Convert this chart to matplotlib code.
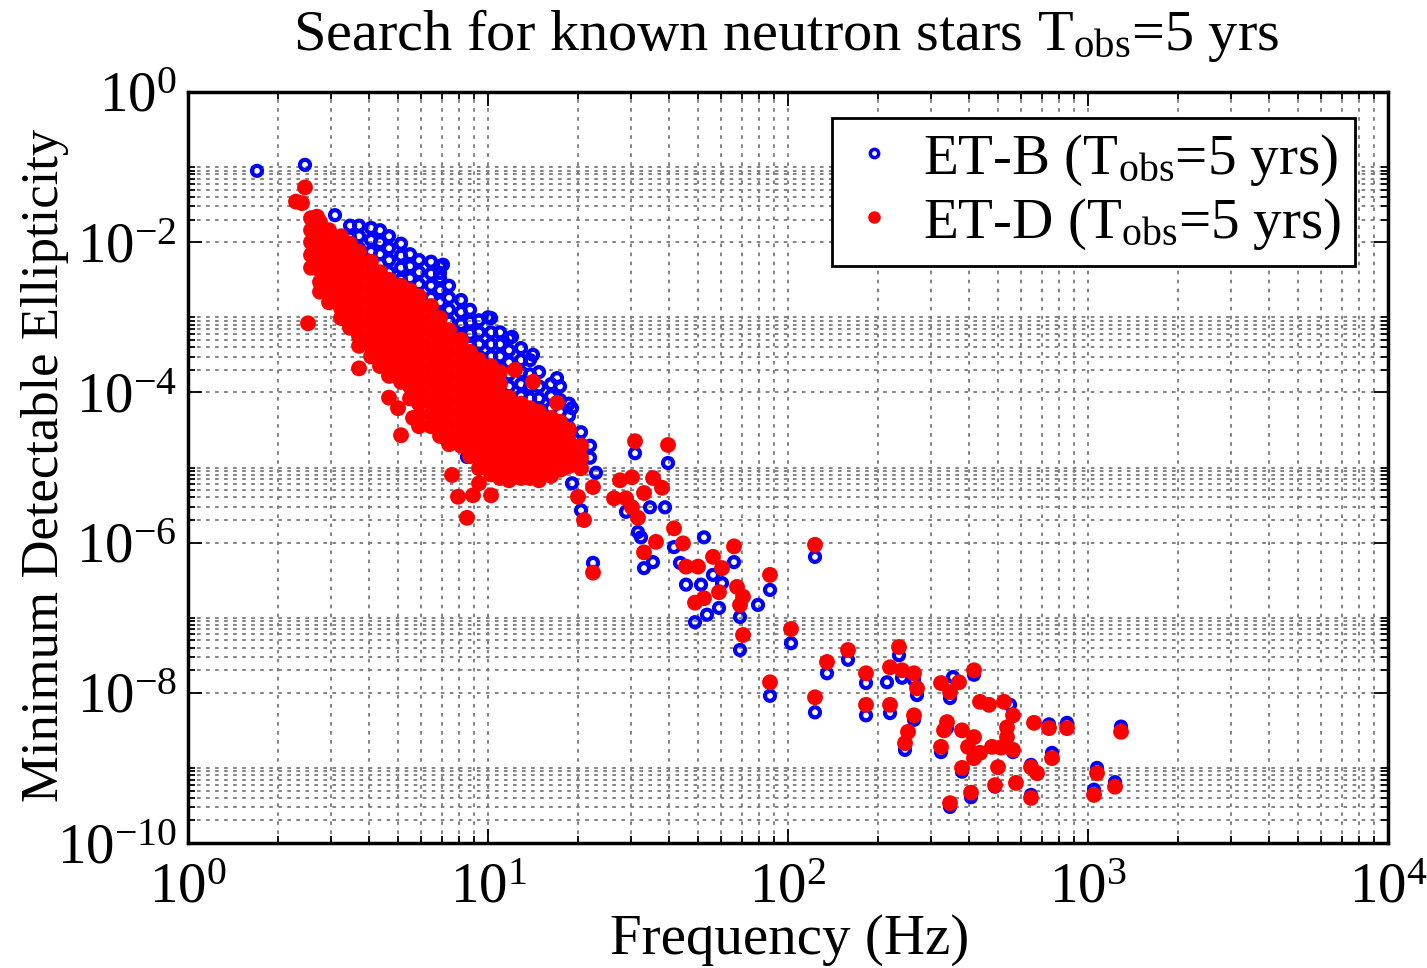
import numpy as np
import matplotlib.pyplot as plt
from matplotlib.ticker import FixedLocator, FuncFormatter, LogLocator, NullFormatter
from matplotlib.lines import Line2D

plt.rcParams['font.family'] = ['Liberation Serif', 'DejaVu Serif']
plt.rcParams['mathtext.fontset'] = 'custom'
plt.rcParams['mathtext.rm'] = 'Liberation Serif'
plt.rcParams['mathtext.it'] = 'Liberation Serif:italic'
plt.rcParams['mathtext.bf'] = 'Liberation Serif:bold'

# values, stored as log10(frequency / Hz) and log10(ellipticity)

# dense band of ET-D points: one frequency per column, ellipticities in that column
etd_band_logf = [0.41, 0.44, 0.47, 0.51, 0.54, 0.57, 0.61, 0.64, 0.67, 0.71,
                 0.74, 0.77, 0.81, 0.84, 0.87, 0.91, 0.94, 0.97, 1.01, 1.04,
                 1.07, 1.11, 1.14, 1.17, 1.21, 1.24, 1.27, 1.31]
etd_band_loge = [
    [-1.68, -1.84, -2.00, -2.17, -2.34],
    [-1.73, -1.89, -2.05, -2.21, -2.37, -2.53, -2.66],
    [-1.84, -2.00, -2.16, -2.32, -2.48, -2.64, -2.80],
    [-1.92, -2.08, -2.24, -2.40, -2.56, -2.72, -2.88, -3.01],
    [-2.02, -2.18, -2.34, -2.50, -2.66, -2.82, -2.98, -3.14],
    [-2.13, -2.29, -2.45, -2.61, -2.77, -2.93, -3.09, -3.25, -3.38],
    [-2.26, -2.42, -2.58, -2.74, -2.90, -3.06, -3.22, -3.38, -3.52],
    [-2.40, -2.56, -2.72, -2.88, -3.04, -3.20, -3.36, -3.52, -3.65],
    [-2.50, -2.66, -2.82, -2.98, -3.14, -3.30, -3.46, -3.62, -3.78],
    [-2.58, -2.74, -2.90, -3.06, -3.22, -3.38, -3.54, -3.70, -3.86],
    [-2.64, -2.80, -2.96, -3.12, -3.28, -3.44, -3.60, -3.76, -3.92, -4.08],
    [-2.72, -2.88, -3.04, -3.20, -3.36, -3.52, -3.68, -3.84, -4.00, -4.15, -4.31, -4.45],
    [-2.85, -3.01, -3.17, -3.33, -3.49, -3.65, -3.81, -3.97, -4.13, -4.29, -4.45],
    [-3.01, -3.17, -3.33, -3.49, -3.65, -3.81, -3.97, -4.13, -4.29, -4.45, -4.58],
    [-3.17, -3.33, -3.49, -3.65, -3.81, -3.97, -4.13, -4.29, -4.45, -4.58, -4.69],
    [-3.30, -3.46, -3.62, -3.78, -3.94, -4.10, -4.26, -4.42, -4.58, -4.71],
    [-3.46, -3.62, -3.78, -3.94, -4.10, -4.26, -4.42, -4.58, -4.71, -4.85],
    [-3.57, -3.73, -3.89, -4.05, -4.21, -4.37, -4.53, -4.69, -4.85, -5.01],
    [-3.65, -3.81, -3.97, -4.13, -4.29, -4.45, -4.61, -4.77, -4.93, -5.09],
    [-3.73, -3.89, -4.05, -4.21, -4.37, -4.53, -4.69, -4.85, -5.01, -5.14],
    [-4.07, -4.23, -4.39, -4.55, -4.71, -4.87, -5.03, -5.17],
    [-4.15, -4.31, -4.47, -4.63, -4.79, -4.95, -5.11],
    [-4.21, -4.37, -4.53, -4.69, -4.85, -5.01, -5.14],
    [-4.26, -4.42, -4.58, -4.74, -4.90, -5.06, -5.17],
    [-4.34, -4.50, -4.66, -4.82, -4.98, -5.11],
    [-4.39, -4.55, -4.71, -4.87, -5.03],
    [-4.50, -4.66, -4.82, -4.98],
    [-4.71, -4.87, -5.01],
]

# dense band of ET-B points (upper edge of the cloud)
etb_band_logf = [0.54, 0.57, 0.61, 0.64, 0.67, 0.71, 0.74, 0.77, 0.81, 0.84,
                 0.87, 0.91, 0.94, 0.97, 1.01, 1.04, 1.07, 1.11, 1.14, 1.17,
                 1.21, 1.24, 1.27, 1.31, 1.34]
etb_band_loge = [
    [-1.78, -1.94],
    [-1.78, -1.92, -2.08],
    [-1.81, -1.97, -2.13],
    [-1.84, -2.00, -2.16, -2.29],
    [-1.92, -2.08, -2.24, -2.40],
    [-2.02, -2.18, -2.34, -2.50],
    [-2.16, -2.32, -2.48],
    [-2.24, -2.40, -2.56],
    [-2.26, -2.42, -2.58, -2.74],
    [-2.32, -2.48, -2.64, -2.80, -2.96],
    [-2.58, -2.74, -2.90, -3.06],
    [-2.77, -2.93, -3.09, -3.25],
    [-2.90, -3.06, -3.22, -3.38],
    [-3.04, -3.20, -3.36, -3.52],
    [-3.01, -3.20, -3.36, -3.52],
    [-3.20, -3.36, -3.52, -3.68],
    [-3.28, -3.44, -3.60, -3.76, -3.92],
    [-3.41, -3.57, -3.73, -3.89, -4.05],
    [-3.57, -3.76, -3.92, -4.08],
    [-3.73, -3.92, -4.08, -4.21],
    [-3.89, -4.05, -4.21, -4.34],
    [-3.92, -4.10, -4.26, -4.42],
    [-4.15, -4.31, -4.47, -4.63],
    [-4.53, -4.69, -4.82],
    [-4.71, -4.87],
]

# scattered ET-D points (log10 f, log10 eps)
etd_scatter = [
    (0.39, -1.27), (0.36, -1.46), (0.38, -1.48), (0.43, -1.66),
    (0.40, -3.08), (0.57, -3.68), (0.67, -4.07), (0.70, -4.21), (0.75, -4.34),
    (0.71, -4.57), (0.88, -5.10), (0.90, -5.39), (0.95, -5.37), (0.97, -5.21),
    (1.01, -5.37), (0.93, -5.67), (1.11, -5.14), (1.16, -5.13),
    (1.09, -3.70), (1.15, -3.86), (1.23, -4.14),
    (1.27, -4.67), (1.28, -4.94), (1.25, -5.01), (1.35, -5.26), (1.30, -5.39),
    (1.32, -5.70), (1.49, -4.65), (1.60, -4.70), (1.44, -5.17), (1.48, -5.13),
    (1.55, -5.14), (1.58, -5.27), (1.52, -5.34), (1.42, -5.41), (1.46, -5.41),
    (1.48, -5.53), (1.50, -5.67), (1.62, -5.81), (1.65, -6.01), (1.56, -5.99),
    (1.52, -6.13), (1.35, -6.40), (1.66, -6.32), (1.70, -6.32), (1.75, -6.19),
    (1.78, -6.34), (1.82, -6.05), (1.69, -6.80), (1.72, -6.74), (1.77, -6.66),
    (1.83, -6.59), (1.85, -6.72), (1.84, -6.83), (1.85, -7.23), (1.94, -6.43),
    (2.09, -6.03), (2.01, -7.15), (1.94, -7.86),
    (2.13, -7.59), (2.20, -7.43), (2.26, -7.74), (2.09, -8.06), (2.26, -8.16),
    (2.37, -7.39), (2.34, -7.66), (2.38, -7.70), (2.42, -7.74), (2.43, -7.94),
    (2.34, -8.16), (2.42, -8.30), (2.40, -8.52), (2.39, -8.67), (2.62, -7.70),
    (2.51, -7.87), (2.57, -7.86), (2.54, -7.99), (2.64, -8.12), (2.67, -8.16),
    (2.72, -8.12), (2.75, -8.30), (2.73, -8.46), (2.73, -8.59), (2.75, -8.76),
    (2.71, -8.73), (2.68, -8.72), (2.82, -8.40), (2.87, -8.47), (2.93, -8.47),
    (3.11, -8.52), (2.53, -8.39), (2.52, -8.50), (2.58, -8.50), (2.62, -8.59),
    (2.60, -8.72), (2.51, -8.72), (2.64, -8.80), (2.62, -8.87), (2.58, -9.00),
    (2.70, -8.99), (2.81, -8.99), (2.83, -9.07), (2.88, -8.87), (2.61, -9.33),
    (2.69, -9.23), (2.76, -9.20), (2.81, -9.40), (2.54, -9.47), (3.03, -9.07),
    (3.02, -9.36), (3.09, -9.25),
]

# scattered ET-B points (log10 f, log10 eps)
etb_scatter = [
    (0.23, -1.05), (0.39, -0.97), (0.49, -1.64), (0.85, -2.30), (0.84, -2.41),
    (1.00, -3.00), (1.08, -3.26), (1.15, -3.50), (1.23, -3.81), (1.28, -4.21),
    (0.93, -4.86),
    (1.31, -4.81), (1.36, -5.07), (1.28, -5.21), (1.31, -5.57), (1.49, -4.81),
    (1.60, -4.94), (1.46, -5.59), (1.54, -5.53), (1.59, -5.53), (1.50, -5.86),
    (1.51, -5.93), (1.72, -5.93), (1.62, -6.06), (1.55, -6.26), (1.52, -6.34),
    (1.35, -6.27), (1.64, -6.27), (1.75, -6.43), (1.82, -6.26), (1.66, -6.56),
    (1.71, -6.56), (1.78, -6.54), (1.77, -6.87), (1.69, -7.06), (1.73, -6.96),
    (1.84, -6.99), (1.90, -6.83), (1.94, -6.63), (1.84, -7.43), (2.09, -6.19),
    (2.01, -7.34), (1.94, -8.04),
    (2.13, -7.74), (2.20, -7.56), (2.26, -7.87), (2.09, -8.26), (2.26, -8.30),
    (2.37, -7.50), (2.33, -7.86), (2.38, -7.80), (2.42, -7.83), (2.43, -8.03),
    (2.34, -8.27), (2.42, -8.36), (2.39, -8.76), (2.55, -7.79), (2.54, -8.07),
    (2.62, -7.76), (2.74, -8.16), (2.53, -8.47), (2.51, -8.79), (2.58, -9.05),
    (2.61, -9.39), (2.54, -9.52), (2.69, -9.25), (2.75, -8.79), (2.81, -9.36),
    (2.81, -8.96), (2.88, -8.80), (2.93, -8.40), (2.87, -8.42), (3.11, -8.45),
    (3.03, -9.00), (3.02, -9.29), (3.09, -9.19),
]

title = r'Search for known neutron stars T$_{\mathrm{obs}}$=5 yrs'
labels = [r'ET-B (T$_{\mathrm{obs}}$=5 yrs)', r'ET-D (T$_{\mathrm{obs}}$=5 yrs)']


def collect(band_logf, band_loge, scatter):
    lf, le = [], []
    for f, col in zip(band_logf, band_loge):
        lf += [f] * len(col)
        le += col
    lf += [p[0] for p in scatter]
    le += [p[1] for p in scatter]
    return 10.0 ** np.array(lf), 10.0 ** np.array(le)


freq_b, ell_b = collect(etb_band_logf, etb_band_loge, etb_scatter)
freq_d, ell_d = collect(etd_band_logf, etd_band_loge, etd_scatter)

fig = plt.figure(figsize=(14.27, 9.68), dpi=100)
ax = fig.add_axes([188 / 1427, 1 - 843 / 968, 1200 / 1427, 751 / 968])

ax.scatter(freq_b, ell_b, s=52, facecolors='none', edgecolors='#0000ff',
           linewidths=3.0, zorder=3)
ax.scatter(freq_d, ell_d, s=130, color='#ff0000', edgecolors='none', zorder=4)

ax.set_xscale('log')
ax.set_yscale('log')
ax.set_xlim(1, 1e4)
ax.set_ylim(1e-10, 1)

# y grid: majors every two decades, minor lines only in alternate decades
ymaj = [10.0 ** -k for k in (0, 2, 4, 6, 8, 10)]
ymin = [k * 10.0 ** -e for e in (2, 4, 6, 8, 10) for k in range(2, 11)]
ax.yaxis.set_major_locator(FixedLocator(ymaj))
ax.yaxis.set_minor_locator(FixedLocator(ymin))
ax.xaxis.set_major_locator(LogLocator(base=10, numticks=10))
ax.xaxis.set_minor_locator(LogLocator(base=10, subs=np.arange(2, 10), numticks=20))

fmt = FuncFormatter(lambda v, p: r'$10^{%d}$' % int(round(np.log10(v))))
ax.xaxis.set_major_formatter(fmt)
ax.yaxis.set_major_formatter(fmt)
ax.xaxis.set_minor_formatter(NullFormatter())
ax.yaxis.set_minor_formatter(NullFormatter())

ax.grid(which='both', color='#7a7a7a', linestyle=(0, (2, 3)), linewidth=1.3)
ax.set_axisbelow(True)

ax.tick_params(which='both', direction='in', top=True, right=True, width=1.3)
ax.tick_params(which='major', length=10, labelsize=41)
ax.tick_params(which='minor', length=5)
ax.tick_params(axis='x', pad=14)
ax.tick_params(axis='y', pad=8)
for s in ax.spines.values():
    s.set_linewidth(2.5)

fig.text(0.551, 1 - 35 / 968, title, ha='center', va='center', fontsize=42)
fig.text(790 / 1427, 1 - 940 / 968, 'Frequency (Hz)', ha='center', va='center', fontsize=41)
fig.text(45 / 1427, 1 - 465 / 968, 'Minimum Detectable Ellipticity', rotation=90,
         ha='center', va='center', fontsize=38)

handles = [
    Line2D([], [], linestyle='none', marker='o', markersize=6, markerfacecolor='none',
           markeredgecolor='#0000ff', markeredgewidth=2.5),
    Line2D([], [], linestyle='none', marker='o', markersize=8, color='#ff0000'),
]
leg = ax.legend(handles, labels, loc='upper right', bbox_to_anchor=(0.9725, 0.9654),
                borderaxespad=0, fontsize=41, frameon=True, fancybox=False,
                framealpha=1, edgecolor='black', handletextpad=0.35,
                borderpad=0.25, labelspacing=0.15, handlelength=1.0)
leg.get_frame().set_linewidth(2)

fig.savefig('out.png', dpi=100)
